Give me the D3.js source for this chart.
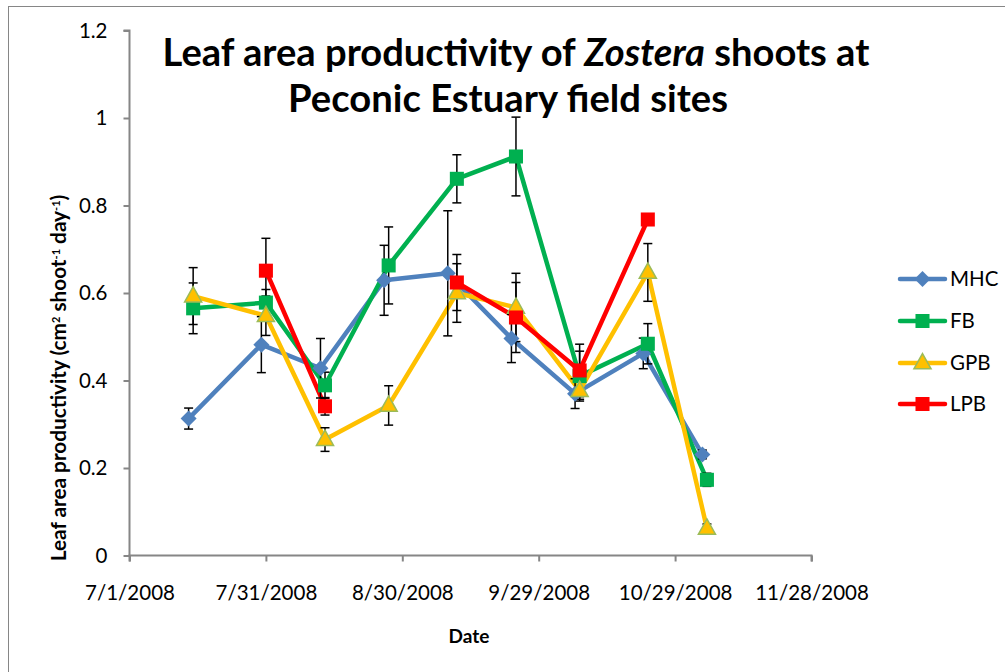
<!DOCTYPE html>
<html><head><meta charset="utf-8">
<script src="https://cdnjs.cloudflare.com/ajax/libs/d3/7.8.5/d3.min.js"></script>
<style>
html,body{margin:0;padding:0;background:#fff;}
svg{display:block;}
text{font-family:Lato,"Open Sans",sans-serif;fill:#000;}
</style></head>
<body>
<svg id="chart" width="1005" height="672"></svg>
<script>
// ---- Data ----
const seriesNames = ["MHC", "FB", "GPB", "LPB"];
const mhcDates = ["2008-07-14","2008-07-30","2008-08-12","2008-08-26","2008-09-09","2008-09-23","2008-10-07","2008-10-22","2008-11-04"];
const siteDates = ["2008-07-15","2008-07-31","2008-08-13","2008-08-27","2008-09-11","2008-09-24","2008-10-08","2008-10-23","2008-11-05"];
const mhcValues = [0.313,0.482,0.428,0.629,0.645,0.496,0.370,0.462,0.231];
const mhcErr    = [0.024,0.064,0.068,0.080,0.143,0.055,0.034,0.035,0.010];
const fbValues  = [0.565,0.578,0.389,0.663,0.861,0.912,0.410,0.484,0.173];
const fbErr     = [0.058,0.030,0.030,0.088,0.055,0.090,0.057,0.046,0.015];
const gpbValues = [0.593,0.548,0.265,0.343,0.600,0.567,0.377,0.647,0.062];
const gpbErr    = [0.065,0.045,0.027,0.045,0.067,0.078,0.020,0.066,0.010];
const lpbValues = [null,0.651,0.341,null,0.624,0.544,0.423,0.768,null];
const lpbErr    = [null,0.074,0.020,null,0.064,0.080,0.060,0.000,null];
const xTickLabels = ["7/1/2008","7/31/2008","8/30/2008","9/29/2008","10/29/2008","11/28/2008"];
const yTickValues = [0,0.2,0.4,0.6,0.8,1,1.2];

const parse = d3.timeParse("%Y-%m-%d");
const tickParse = d3.timeParse("%m/%d/%Y");
const mk = (dates, vals, errs) => dates.map((d,i)=>({date:parse(d), v:vals[i], e:errs[i]}));
const series = [
  {name:seriesNames[0], color:"#4F81BD", marker:"diamond", data:mk(mhcDates,mhcValues,mhcErr)},
  {name:seriesNames[1], color:"#00B050", marker:"square",  data:mk(siteDates,fbValues,fbErr)},
  {name:seriesNames[2], color:"#FFC000", marker:"triangle",data:mk(siteDates,gpbValues,gpbErr)},
  {name:seriesNames[3], color:"#FF0000", marker:"square",  data:mk(siteDates,lpbValues,lpbErr)}
];

// ---- Layout ----
const svg = d3.select("#chart");
const x0 = 129.5, x1 = 811.5, yTop = 30.5, yBot = 555.5;
const x = d3.scaleTime().domain([tickParse(xTickLabels[0]), tickParse(xTickLabels[xTickLabels.length-1])]).range([x0, x1]);
const y = d3.scaleLinear().domain([0, 1.2]).range([yBot, yTop]);

// outer chart border
svg.append("rect").attr("x",8.5).attr("y",6.5).attr("width",1010).attr("height",680)
  .attr("fill","none").attr("stroke","#868686").attr("stroke-width",1);

// axes
const axisColor = "#868686";
const yAxis = svg.append("g").attr("transform",`translate(${x0},0)`)
  .call(d3.axisLeft(y).tickValues(yTickValues).tickSize(6).tickPadding(16).tickFormat(d=>d3.format("")(+d.toFixed(1))));
yAxis.select(".domain").attr("stroke",axisColor).attr("stroke-width",2).attr("d",`M-6,${yTop}H0V${yBot}`);
yAxis.selectAll(".tick line").attr("stroke",axisColor).attr("stroke-width",2);
yAxis.selectAll(".tick text").attr("font-size","20.5px").attr("font-family","Lato").attr("fill","#000");

const xAxis = svg.append("g").attr("transform",`translate(0,${yBot})`)
  .call(d3.axisBottom(x).tickValues(xTickLabels.map(tickParse)).tickSize(6).tickPadding(24)
    .tickFormat((d,i)=>xTickLabels[i]));
xAxis.select(".domain").attr("stroke",axisColor).attr("stroke-width",2).attr("d",`M${x0},6V0H${x1}V6`);
xAxis.selectAll(".tick line").attr("stroke",axisColor).attr("stroke-width",2);
xAxis.selectAll(".tick text").attr("font-size","20.5px").attr("font-family","Lato").attr("fill","#000");

// marker shapes
function markerPath(type, s){
  if(type==="diamond") return `M0,${-s}L${s},0L0,${s}L${-s},0Z`;
  if(type==="square") return `M${-s*0.78},${-s*0.78}H${s*0.78}V${s*0.78}H${-s*0.78}Z`;
  if(type==="triangle") return `M0,${-s*1.05}L${s*0.95},${s*0.65}L${-s*0.95},${s*0.65}Z`;
}

const line = d3.line().defined(d=>d.v!==null).x(d=>x(d.date)).y(d=>y(d.v));

// lines
series.forEach(s=>{
  svg.append("path").datum(s.data).attr("d",line).attr("fill","none")
    .attr("stroke",s.color).attr("stroke-width",4.5).attr("stroke-linejoin","round");
});
// error bars
const eb = svg.append("g").attr("stroke","#000").attr("stroke-width",1.5);
series.forEach(s=>{
  s.data.filter(d=>d.v!==null && d.e>0).forEach(d=>{
    const cx = x(d.date);
    eb.append("line").attr("x1",cx).attr("x2",cx).attr("y1",y(d.v-d.e)).attr("y2",y(d.v+d.e));
    [d.v-d.e, d.v+d.e].forEach(v=>{
      eb.append("line").attr("x1",cx-4.5).attr("x2",cx+4.5).attr("y1",y(v)).attr("y2",y(v));
    });
  });
});
// markers
series.forEach(s=>{
  svg.append("g").selectAll("path").data(s.data.filter(d=>d.v!==null)).join("path")
    .attr("transform",d=>`translate(${x(d.date)},${y(d.v)})`)
    .attr("d",markerPath(s.marker, s.marker==="diamond"?8:9))
    .attr("fill",s.color)
    .attr("stroke",s.marker==="triangle"?"#9BBB59":"none").attr("stroke-width",1.5);
});

// legend
const legY = [279, 321, 363, 404];
series.forEach((s,i)=>{
  const g = svg.append("g").attr("transform",`translate(0,${legY[i]})`);
  g.append("line").attr("x1",900).attr("x2",945).attr("y1",0).attr("y2",0)
    .attr("stroke",s.color).attr("stroke-width",4.5).attr("stroke-linecap","round");
  g.append("path").attr("transform","translate(922.5,0)").attr("d",markerPath(s.marker, s.marker==="diamond"?8:9))
    .attr("fill",s.color).attr("stroke",s.marker==="triangle"?"#9BBB59":"none").attr("stroke-width",1.5);
  g.append("text").attr("x",950).attr("y",7).attr("font-size","20.5px").text(s.name);
});

// title
const t1 = svg.append("text").attr("x",516).attr("y",66).attr("text-anchor","middle")
  .attr("font-weight","bold").attr("font-size","32px");
t1.append("tspan").text("Leaf area productivity of ");
t1.append("tspan").attr("font-style","italic").text("Zostera");
t1.append("tspan").text(" shoots at");
const t2 = svg.append("text").attr("x",508).attr("y",112).attr("text-anchor","middle")
  .attr("font-weight","bold").attr("font-size","32px").text("Peconic Estuary field sites");
function fit(t, w){ const cur=t.node().getComputedTextLength(); const fs=32*w/cur; t.attr("font-size",fs+"px"); }
fit(t1, 707); fit(t2, 440);

// y axis title
const yt = svg.append("text").attr("transform","translate(66,378) rotate(-90)")
  .attr("text-anchor","middle").attr("font-weight","bold").attr("font-size","16px");
yt.append("tspan").text("Leaf area productivity (cm");
yt.append("tspan").attr("baseline-shift","super").attr("font-size","11px").text("2");
yt.append("tspan").text(" shoot");
yt.append("tspan").attr("baseline-shift","super").attr("font-size","11px").text("-1");
yt.append("tspan").text(" day");
yt.append("tspan").attr("baseline-shift","super").attr("font-size","11px").text("-1");
yt.append("tspan").text(")");
{ const cur = yt.node().getComputedTextLength(); if(cur>0){ yt.attr("font-size",(16*375/cur)+"px"); } }

// x axis title
svg.append("text").attr("x",469).attr("y",643).attr("text-anchor","middle")
  .attr("font-weight","bold").attr("font-size","19px").text("Date");
</script>
</body></html>
